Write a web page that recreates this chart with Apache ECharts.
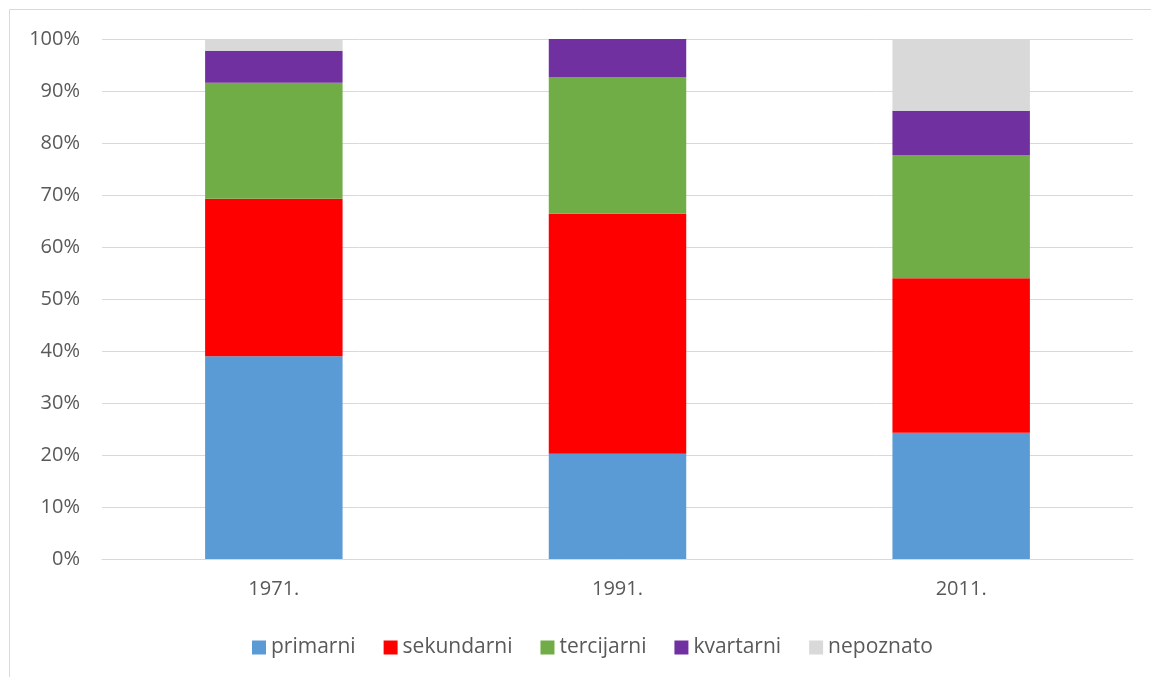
<!DOCTYPE html>
<html>
<head>
<meta charset="utf-8">
<script src="https://cdn.jsdelivr.net/npm/echarts@6/dist/echarts.min.js"></script>
<style>
html,body{margin:0;padding:0;background:#fff;}
#c{width:1151px;height:677px;}
</style>
</head>
<body>
<div id="c"></div>
<script>
const categories = ['1971.', '1991.', '2011.'];
const primarni   = [39.0, 20.25, 24.3];
const sekundarni = [30.3, 46.15, 29.7];
const tercijarni = [22.3, 26.3, 23.7];
const kvartarni  = [6.15, 7.3, 8.5];
const nepoznato  = [2.25, 0, 13.8];
const yTicks = [0, 10, 20, 30, 40, 50, 60, 70, 80, 90, 100];

const seriesDefs = [
  ['primarni', primarni, '#5b9bd5'],
  ['sekundarni', sekundarni, '#ff0000'],
  ['tercijarni', tercijarni, '#70ad47'],
  ['kvartarni', kvartarni, '#7030a0'],
  ['nepoznato', nepoznato, '#d9d9d9']
];
const font = '"Open Sans", Lato, sans-serif';
const chart = echarts.init(document.getElementById('c'), null, {renderer: 'canvas'});
chart.setOption({
  animation: false,
  color: seriesDefs.map(s => s[2]),
  textStyle: {fontFamily: font},
  graphic: [{
    type: 'rect', shape: {x: 9.5, y: 9.5, width: 1150, height: 700},
    style: {fill: 'none', stroke: '#d9d9d9', lineWidth: 1}, silent: true
  }],
  grid: {left: 102, right: 18, top: 39, bottom: 118, containLabel: false},
  legend: {
    top: 632, left: 247, padding: 5,
    itemWidth: 14, itemHeight: 14, itemGap: 28, icon: 'rect',
    textStyle: {fontSize: 21, color: '#595959', fontFamily: font},
    data: seriesDefs.map(s => s[0])
  },
  xAxis: {
    type: 'category', data: categories,
    axisLine: {lineStyle: {color: '#d9d9d9'}},
    axisTick: {show: false},
    axisLabel: {fontSize: 20, color: '#595959', margin: 20, fontFamily: font}
  },
  yAxis: {
    type: 'value', min: yTicks[0], max: yTicks[yTicks.length - 1], interval: 10,
    axisLine: {show: false}, axisTick: {show: false},
    splitLine: {lineStyle: {color: '#d9d9d9', width: 1}},
    axisLabel: {fontSize: 20, color: '#595959', margin: 22, fontFamily: font,
      formatter: v => v + '%'}
  },
  series: seriesDefs.map(s => ({
    name: s[0], type: 'bar', stack: 'total', data: s[1],
    barWidth: '40%', itemStyle: {color: s[2]}
  }))
});
</script>
</body>
</html>
